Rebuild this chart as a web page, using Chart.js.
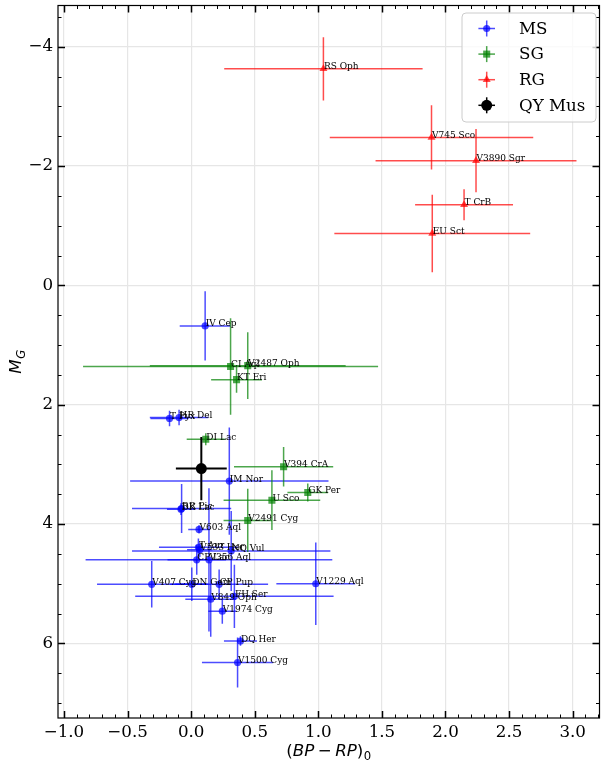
<!DOCTYPE html>
<html><head><meta charset="utf-8">
<script src="https://cdn.jsdelivr.net/npm/chart.js@4.4.1/dist/chart.umd.min.js"></script>
<style>html,body{margin:0;padding:0;background:#fff}#wrap{width:605px;height:765px}</style>
</head><body><div id="wrap"><canvas id="c" width="605" height="765"></canvas></div>
<script>
// ---------------- data ----------------
const msNames = ['IV Cep','T Pyx','HR Del','IM Nor','RR Pic','DK Lac','V603 Aql','T Aur','V533 Her','NQ Vul','CP Lac','V356 Aql','V407 Cyg','DN Gem','CP Pup','V1229 Aql','FH Ser','V849 Oph','V1974 Cyg','DQ Her','V1500 Cyg'];
const msX    = [0.11,-0.17,-0.095,0.30,-0.075,-0.08,0.062,0.057,0.068,0.315,0.044,0.14,-0.31,0.005,0.22,0.98,0.34,0.154,0.245,0.388,0.365];
const msY    = [0.68,2.23,2.215,3.28,3.74,3.75,4.09,4.39,4.43,4.45,4.60,4.60,5.01,5.01,5.01,5.00,5.21,5.26,5.46,5.96,6.32];
const msXerr = [0.20,0.15,0.23,0.78,0.39,0.11,0.085,0.31,0.10,0.78,0.23,0.97,0.43,0.13,0.385,0.31,0.78,0.20,0.11,0.13,0.28];
const msYerr = [0.58,0.13,0.13,0.90,0.41,0.10,0.07,0.15,0.12,0.67,0.25,1.20,0.39,0.28,0.25,0.69,0.53,0.63,0.21,0.08,0.42];

const sgNames = ['CI Aql','V2487 Oph','KT Eri','DI Lac','V394 CrA','GK Per','U Sco','V2491 Cyg'];
const sgX     = [0.31,0.445,0.357,0.115,0.727,0.917,0.635,0.445];
const sgY     = [1.36,1.345,1.58,2.58,3.04,3.47,3.60,3.94];
const sgXerr  = [1.16,0.77,0.20,0.15,0.39,0.16,0.38,0.19];
const sgYerr  = [0.81,0.56,0.22,0.10,0.33,0.15,0.50,0.53];

const rgNames = ['RS Oph','V745 Sco','V3890 Sgr','T CrB','EU Sct'];
const rgX     = [1.04,1.89,2.24,2.146,1.896];
const rgY     = [-3.63,-2.48,-2.09,-1.35,-0.87];
const rgXerr  = [0.78,0.80,0.79,0.385,0.77];
const rgYerr  = [0.53,0.54,0.53,0.26,0.65];

const qyX = [0.08];
const qyY = [3.07];
const qyXerr = [0.20];
const qyYerr = [0.53];

const legendLabels = ['MS','SG','RG','QY Mus'];
const xTickValues = [-1.0,-0.5,0.0,0.5,1.0,1.5,2.0,2.5,3.0];
const yTickValues = [-4,-2,0,2,4,6];
const xLimits = [-1.047, 3.211];
const yLimits = [-4.69, 7.25];

// ---------------- helpers ----------------
const MINUS = '\u2212';
function fmtX(v){ return (v < 0 ? MINUS : '') + Math.abs(v).toFixed(1); }
function fmtY(v){ return (v < 0 ? MINUS : '') + Math.abs(v); }
function pts(xs, ys){ return xs.map((v,i)=>({x:v, y:ys[i]})); }

const COL = {
  MS: 'rgba(0,0,255,0.7)',
  SG: 'rgba(0,128,0,0.7)',
  RG: 'rgba(255,0,0,0.7)',
  QY: 'rgba(0,0,0,1)'
};

function drawMarker(ctx, style, x, y, r, color){
  ctx.fillStyle = color;
  ctx.beginPath();
  if (style === 'circle') { ctx.arc(x, y, r, 0, Math.PI*2); }
  else if (style === 'rect') { const s = Math.SQRT1_2*r; ctx.rect(x-s, y-s, 2*s, 2*s); }
  else if (style === 'triangle') {
    let a = 0;
    ctx.moveTo(x + Math.sin(a)*r, y - Math.cos(a)*r); a += 2*Math.PI/3;
    ctx.lineTo(x + Math.sin(a)*r, y - Math.cos(a)*r); a += 2*Math.PI/3;
    ctx.lineTo(x + Math.sin(a)*r, y - Math.cos(a)*r);
    ctx.closePath();
  }
  ctx.fill();
}

const errorBarPlugin = {
  id: 'errbars',
  beforeDatasetDraw(chart, args){
    const ds = chart.data.datasets[args.index];
    if (!ds.xErr) return;
    const {ctx, chartArea:a, scales:{x, y}} = chart;
    ctx.save();
    ctx.beginPath(); ctx.rect(a.left, a.top, a.right-a.left, a.bottom-a.top); ctx.clip();
    ctx.strokeStyle = ds.errColor; ctx.lineWidth = ds.errWidth || 1.5;
    ds.data.forEach((p,i)=>{
      const px = x.getPixelForValue(p.x), py = y.getPixelForValue(p.y);
      ctx.beginPath();
      ctx.moveTo(x.getPixelForValue(p.x - ds.xErr[i]), py);
      ctx.lineTo(x.getPixelForValue(p.x + ds.xErr[i]), py);
      ctx.stroke();
      ctx.beginPath();
      ctx.moveTo(px, y.getPixelForValue(p.y - ds.yErr[i]));
      ctx.lineTo(px, y.getPixelForValue(p.y + ds.yErr[i]));
      ctx.stroke();
    });
    ctx.restore();
  }
};

const namesPlugin = {
  id: 'names',
  afterDatasetsDraw(chart){
    const {ctx, scales:{x, y}} = chart;
    ctx.save();
    ctx.font = '9px "DejaVu Serif"';
    ctx.fillStyle = '#000';
    ctx.textAlign = 'left';
    ctx.textBaseline = 'alphabetic';
    chart.data.datasets.forEach(ds=>{
      if (!ds.names) return;
      ds.data.forEach((p,i)=>{
        ctx.fillText(ds.names[i], x.getPixelForValue(p.x)+0.5, y.getPixelForValue(p.y)+0.5);
      });
    });
    ctx.restore();
  }
};

function drawRuns(ctx, runs, size){
  let w = 0;
  const items = runs.map(r=>{
    const fs = r.sub ? size*0.7 : size;
    const font = (r.italic ? 'italic ' : '') + fs + 'px "DejaVu Sans"';
    ctx.font = font;
    const tw = ctx.measureText(r.t).width;
    const it = {r, font, x: w + (r.gap||0), tw};
    w = it.x + tw;
    return it;
  });
  return {w, items};
}
function paintRuns(ctx, layout, x0, base, size){
  layout.items.forEach(it=>{
    ctx.font = it.font;
    ctx.fillText(it.r.t, x0 + it.x, base + (it.r.sub ? size*0.22 : 0));
  });
}

const framePlugin = {
  id: 'frame',
  afterDraw(chart){
    const {ctx, chartArea:a, scales:{x, y}} = chart;
    ctx.save();
    ctx.strokeStyle = '#000';
    const majL = 7, minL = 3.5;
    function tickX(v, len, lw){
      const px = Math.round(x.getPixelForValue(v)) + 0.5;
      ctx.lineWidth = lw;
      ctx.beginPath();
      ctx.moveTo(px, a.bottom); ctx.lineTo(px, a.bottom - len);
      ctx.moveTo(px, a.top); ctx.lineTo(px, a.top + len);
      ctx.stroke();
    }
    function tickY(v, len, lw){
      const py = Math.round(y.getPixelForValue(v)) + 0.5;
      ctx.lineWidth = lw;
      ctx.beginPath();
      ctx.moveTo(a.left, py); ctx.lineTo(a.left + len, py);
      ctx.moveTo(a.right, py); ctx.lineTo(a.right - len, py);
      ctx.stroke();
    }
    for (let i = -10; i <= 32; i++){
      const v = i/10;
      if (v < xLimits[0] || v > xLimits[1]) continue;
      if (i % 5 === 0) continue;
      tickX(v, minL, 1);
    }
    xTickValues.forEach(v=>tickX(v, majL, 1.5));
    for (let i = -9; i <= 14; i++){
      const v = i/2;
      if (v < yLimits[0] || v > yLimits[1]) continue;
      if (i % 4 === 0) continue;
      tickY(v, minL, 1);
    }
    yTickValues.forEach(v=>tickY(v, majL, 1.5));
    ctx.lineWidth = 1.2;
    ctx.strokeRect(a.left, a.top, a.right-a.left, a.bottom-a.top);

    // axis titles
    ctx.fillStyle = '#000';
    ctx.textBaseline = 'alphabetic';
    ctx.textAlign = 'left';
    const fs = 16.7;
    const xr = [{t:'('},{t:'BP',italic:true},{t:MINUS,gap:3.5},{t:'RP',italic:true,gap:3.5},{t:')'},{t:'0',sub:true,gap:0.5}];
    const lx = drawRuns(ctx, xr, fs);
    paintRuns(ctx, lx, (a.left+a.right)/2 - lx.w/2, 756, fs);
    const yr = [{t:'M',italic:true},{t:'G',italic:true,sub:true,gap:0.5}];
    const ly = drawRuns(ctx, yr, fs);
    ctx.save();
    ctx.translate(21, (a.top+a.bottom)/2);
    ctx.rotate(-Math.PI/2);
    paintRuns(ctx, ly, -ly.w/2, 0, fs);
    ctx.restore();

    // legend
    const bx = 462, by = 13, bw = 134, bh = 109;
    ctx.beginPath();
    ctx.roundRect(bx, by, bw, bh, 4);
    ctx.fillStyle = 'rgba(255,255,255,0.8)';
    ctx.fill();
    ctx.strokeStyle = '#cccccc';
    ctx.lineWidth = 1;
    ctx.stroke();
    const rows = [
      {c:COL.MS, s:'circle', r:3.6},
      {c:COL.SG, s:'rect', r:5},
      {c:COL.RG, s:'triangle', r:4.6},
      {c:COL.QY, s:'circle', r:5.5}
    ];
    ctx.font = '16.7px "DejaVu Serif"';
    ctx.textBaseline = 'middle';
    rows.forEach((rw,i)=>{
      const cy = 28.5 + i*25.6, cx = 486.7;
      ctx.strokeStyle = rw.c; ctx.lineWidth = 1.5;
      ctx.beginPath(); ctx.moveTo(cx-8.3, cy); ctx.lineTo(cx+8.3, cy); ctx.stroke();
      ctx.beginPath(); ctx.moveTo(cx, cy-8); ctx.lineTo(cx, cy+8); ctx.stroke();
      drawMarker(ctx, rw.s, cx, cy, rw.r, rw.c);
      ctx.fillStyle = '#000';
      ctx.fillText(legendLabels[i], 519, cy + 1);
    });
    ctx.restore();
  }
};

new Chart(document.getElementById('c'), {
  type: 'scatter',
  data: {
    datasets: [
      {label:legendLabels[0], data:pts(msX,msY), xErr:msXerr, yErr:msYerr, names:msNames,
       errColor:COL.MS, backgroundColor:COL.MS, borderWidth:0, pointStyle:'circle', pointRadius:3.6, order:4},
      {label:legendLabels[1], data:pts(sgX,sgY), xErr:sgXerr, yErr:sgYerr, names:sgNames,
       errColor:COL.SG, backgroundColor:COL.SG, borderWidth:0, pointStyle:'rect', pointRadius:5, order:3},
      {label:legendLabels[2], data:pts(rgX,rgY), xErr:rgXerr, yErr:rgYerr, names:rgNames,
       errColor:COL.RG, backgroundColor:COL.RG, borderWidth:0, pointStyle:'triangle', pointRadius:4.6, order:2},
      {label:legendLabels[3], data:pts(qyX,qyY), xErr:qyXerr, yErr:qyYerr,
       errColor:COL.QY, errWidth:2, backgroundColor:COL.QY, borderWidth:0, pointStyle:'circle', pointRadius:5.5, order:1}
    ]
  },
  options: {
    responsive:false, animation:false, devicePixelRatio:1,
    layout:{padding:{left:0, right:2, top:5, bottom:0}},
    plugins:{legend:{display:false}, tooltip:{enabled:false}},
    elements:{point:{hoverRadius:0}},
    scales:{
      x:{
        type:'linear', position:'bottom', min:xLimits[0], max:xLimits[1],
        afterFit(s){ s.height = 47; s.paddingLeft = 0; s.paddingRight = 0; },
        afterBuildTicks(s){ s.ticks = xTickValues.map(v=>({value:v})); },
        ticks:{font:{family:'DejaVu Serif', size:16.7}, color:'#000', padding:5, maxRotation:0, autoSkip:false, callback:(v)=>fmtX(v)},
        grid:{color:'#e6e6e6', lineWidth:1.2, drawTicks:false},
        border:{display:false}
      },
      y:{
        type:'linear', position:'left', reverse:true, min:yLimits[0], max:yLimits[1],
        afterFit(s){ s.width = 58; s.paddingTop = 0; s.paddingBottom = 0; },
        afterBuildTicks(s){ s.ticks = yTickValues.map(v=>({value:v})); },
        ticks:{font:{family:'DejaVu Serif', size:16.7}, color:'#000', padding:5, autoSkip:false, callback:(v)=>fmtY(v)},
        grid:{color:'#e6e6e6', lineWidth:1.2, drawTicks:false},
        border:{display:false}
      }
    }
  },
  plugins:[errorBarPlugin, namesPlugin, framePlugin]
});
</script>
</body></html>
